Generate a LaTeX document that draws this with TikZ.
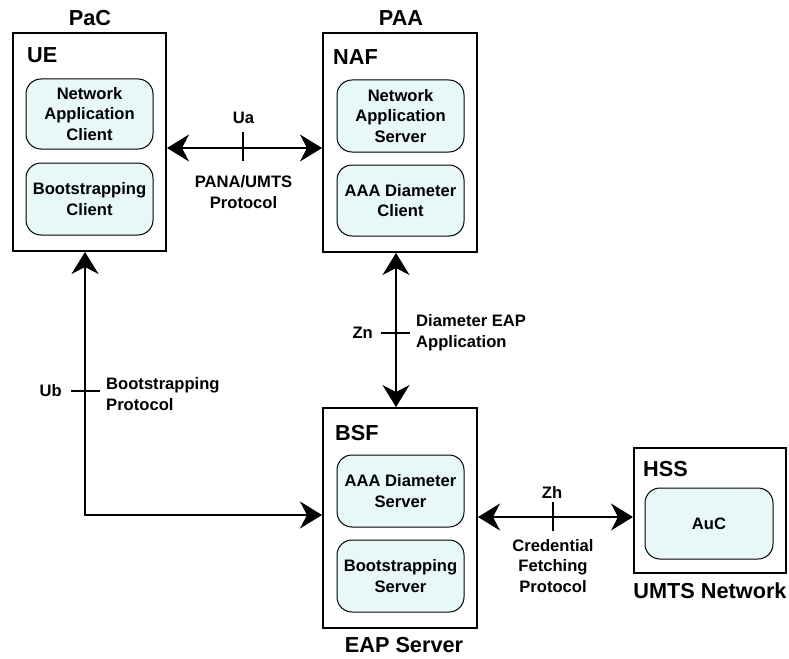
\documentclass[tikz,border=0pt]{standalone}
\usepackage{fontspec}
\setmainfont{Liberation Sans}
\usetikzlibrary{arrows.meta}
\definecolor{innerfill}{RGB}{232,248,248}
\tikzset{
  outerbox/.style={draw=black, line width=2pt, rectangle, inner sep=0pt},
  innerbox/.style={draw=black, line width=1pt, rounded corners=15pt, fill=innerfill, inner sep=0pt, align=center,
    font=\bfseries\fontsize{16.6}{20.7}\selectfont, minimum width=127pt, minimum height=72pt},
  title/.style={font=\bfseries\fontsize{21.7}{25}\selectfont, inner sep=0pt},
  lbl/.style={font=\bfseries\fontsize{16.6}{20.7}\selectfont, inner sep=0pt},
  conn/.style={line width=1.3pt, {Stealth[length=22pt,width=27pt,inset=7pt]}-{Stealth[length=22pt,width=27pt,inset=7pt]}},
  tickmark/.style={line width=1.3pt}
}
\begin{document}
\begin{tikzpicture}[x=1pt,y=-1pt]
\useasboundingbox (0,0) rectangle (789,658);
% outer boxes
\node[outerbox, minimum width=153pt, minimum height=218pt] (ue) at (89.5,142) {};
\node[outerbox, minimum width=154pt, minimum height=219pt] (naf) at (400,142.5) {};
\node[outerbox, minimum width=154pt, minimum height=220pt] (bsf) at (400,518) {};
\node[outerbox, minimum width=152pt, minimum height=125pt] (hss) at (710,510.5) {};
% titles
\node[title, anchor=base] (pac) at (90,26) {PaC};
\node[title, anchor=base] (paa) at (401,26) {PAA};
\node[title, anchor=base west] (uel) at (27,63) {UE};
\node[title, anchor=base west] (nafl) at (333,65) {NAF};
\node[title, anchor=base west] (bsfl) at (335,440) {BSF};
\node[title, anchor=base west] (hssl) at (643,476) {HSS};
\node[title, anchor=base] (eap) at (404,652) {EAP Server};
\node[title, anchor=base] (umts) at (710,598) {UMTS Network};
% inner boxes
\node[innerbox, minimum height=70pt] (nac) at (89.5,114) {Network\\Application\\Client};
\node[innerbox] (bc) at (89.5,199) {Bootstrapping\\Client};
\node[innerbox] (nas) at (400.5,116) {Network\\Application\\Server};
\node[innerbox, minimum height=71pt] (adc) at (400.5,200.5) {AAA Diameter\\Client};
\node[innerbox] (ads) at (400.5,491) {AAA Diameter\\Server};
\node[innerbox] (bs) at (400.5,576) {Bootstrapping\\Server};
\node[innerbox, minimum width=128pt, minimum height=71pt] (auc) at (709,523.5) {AuC};
% connectors
\draw[conn] ([yshift=-6pt]ue.east) -- ([yshift=-6pt]ue.east -| naf.west);
\draw[conn] ([xshift=-4pt]naf.south) -- ([xshift=-4pt]bsf.north);
\draw[conn, line width=2pt] ([xshift=-4.5pt]ue.south) |- ([yshift=3pt]bsf.west);
\draw[conn] ([yshift=1pt]bsf.east) -- ([yshift=1pt]bsf.east -| hss.west);
% tick marks
\coordinate (uat) at (243,148);
\coordinate (znt) at (396,333);
\coordinate (ubt) at (85,391);
\coordinate (zht) at (553,517);
\draw[tickmark] (uat) ++(0,-16) -- ++(0,29);
\draw[tickmark] (znt) ++(-15,0) -- ++(29,0);
\draw[tickmark] (ubt) ++(-14,0) -- ++(29,0);
\draw[tickmark] (zht) ++(0,-15) -- ++(0,29);
% connector labels
\node[lbl] (ual) at (243.5,118) {Ua};
\node[lbl, align=center] (uap) at (243.5,192) {PANA/UMTS\\Protocol};
\node[lbl, anchor=east] (znl) at (373,333) {Zn};
\node[lbl, anchor=west, align=left] (znp) at (416,333) {Diameter EAP\\Application};
\node[lbl, anchor=east] (ubl) at (62,391) {Ub};
\node[lbl, anchor=west, align=left] (ubp) at (106,394) {Bootstrapping\\Protocol};
\node[lbl] (zhl) at (552,492) {Zh};
\node[lbl, align=center] (zhp) at (553,566) {Credential\\Fetching\\Protocol};
\end{tikzpicture}
\end{document}
